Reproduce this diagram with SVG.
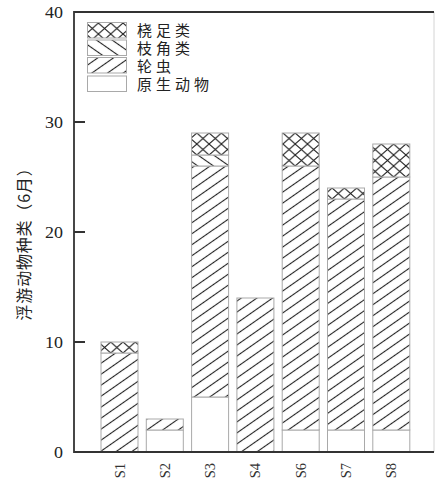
<svg xmlns="http://www.w3.org/2000/svg" width="435" height="481" viewBox="0 0 435 481">
<style>
.seg{stroke:#a9a9a9;stroke-width:1}
.ax{stroke:#333;stroke-width:1.8;fill:none}
.num{font-family:"Liberation Serif",serif;font-size:16px;fill:#222}
.xl{font-family:"Liberation Serif",serif;font-size:14.5px;fill:#333}
.cjk{font-family:"Noto Sans CJK SC","Noto Sans CJK JP",sans-serif;font-size:15px;fill:#222}
</style>
<defs>
<pattern id="slash" patternUnits="userSpaceOnUse" width="9" height="9" patternTransform="rotate(-35)">
<rect width="9" height="9" fill="#fff"/>
<line x1="-1" y1="4.5" x2="10" y2="4.5" stroke="#222" stroke-width="1.1"/>
</pattern>
<pattern id="bslash" patternUnits="userSpaceOnUse" width="9" height="9" patternTransform="rotate(35)">
<rect width="9" height="9" fill="#fff"/>
<line x1="-1" y1="4.5" x2="10" y2="4.5" stroke="#222" stroke-width="1.1"/>
</pattern>
<pattern id="cross" patternUnits="userSpaceOnUse" x="0" y="1" width="12.3" height="11">
<rect width="12.3" height="11" fill="#fff"/>
<path d="M0,0 L12.3,11 M12.3,0 L0,11" stroke="#222" stroke-width="1.1"/>
</pattern>
</defs>
<rect width="435" height="481" fill="#fff"/>

<g id="axes">
<line x1="434" y1="12" x2="434" y2="452" stroke="#d4d4d4" stroke-width="1"/>
<path class="ax" d="M74,12 H434 M74,11 V452 H434"/>
<path class="ax" d="M74,122 H85 M74,232 H85 M74,342 H85"/>
<text class="num" text-anchor="end" transform="translate(63,18) scale(1.12,1)">40</text>
<text class="num" text-anchor="end" transform="translate(63,128) scale(1.12,1)">30</text>
<text class="num" text-anchor="end" transform="translate(63,238) scale(1.12,1)">20</text>
<text class="num" text-anchor="end" transform="translate(63,348) scale(1.12,1)">10</text>
<text class="num" text-anchor="end" transform="translate(63,458) scale(1.12,1)">0</text>
<text class="cjk" text-anchor="middle" letter-spacing="0.8" transform="translate(30,240) rotate(-90)" style="font-size:16px">浮游动物种类（6月）</text>
</g>

<g id="legend">
<rect class="seg" x="87.5" y="22.5" width="39" height="15.5" fill="url(#cross)"/>
<rect class="seg" x="87.5" y="40" width="39" height="15.5" fill="url(#bslash)"/>
<rect class="seg" x="87.5" y="57.5" width="39" height="15.5" fill="url(#slash)"/>
<rect class="seg" x="87.5" y="76" width="39" height="15.5" fill="#fff"/>
<text class="cjk" x="137" y="36" letter-spacing="4">桡足类</text>
<text class="cjk" x="137" y="54" letter-spacing="4">枝角类</text>
<text class="cjk" x="137" y="72" letter-spacing="4">轮虫</text>
<text class="cjk" x="137" y="90" letter-spacing="4">原生动物</text>
</g>

<g id="bar-S1">
<rect class="seg" x="101" y="353" width="37" height="99" fill="url(#slash)"/>
<rect class="seg" x="101" y="342" width="37" height="11" fill="url(#cross)"/>
</g>
<g id="bar-S2">
<rect class="seg" x="146.3" y="430" width="37" height="22" fill="#fff"/>
<rect class="seg" x="146.3" y="419" width="37" height="11" fill="url(#slash)"/>
</g>
<g id="bar-S3">
<rect class="seg" x="191.6" y="397" width="37" height="55" fill="#fff"/>
<rect class="seg" x="191.6" y="166" width="37" height="231" fill="url(#slash)"/>
<rect class="seg" x="191.6" y="155" width="37" height="11" fill="url(#bslash)"/>
<rect class="seg" x="191.6" y="133" width="37" height="22" fill="url(#cross)"/>
</g>
<g id="bar-S4">
<rect class="seg" x="236.9" y="298" width="37" height="154" fill="url(#slash)"/>
</g>
<g id="bar-S6">
<rect class="seg" x="282.2" y="430" width="37" height="22" fill="#fff"/>
<rect class="seg" x="282.2" y="166" width="37" height="264" fill="url(#slash)"/>
<rect class="seg" x="282.2" y="133" width="37" height="33" fill="url(#cross)"/>
</g>
<g id="bar-S7">
<rect class="seg" x="327.5" y="430" width="37" height="22" fill="#fff"/>
<rect class="seg" x="327.5" y="199" width="37" height="231" fill="url(#slash)"/>
<rect class="seg" x="327.5" y="188" width="37" height="11" fill="url(#cross)"/>
</g>
<g id="bar-S8">
<rect class="seg" x="372.8" y="430" width="37" height="22" fill="#fff"/>
<rect class="seg" x="372.8" y="177" width="37" height="253" fill="url(#slash)"/>
<rect class="seg" x="372.8" y="144" width="37" height="33" fill="url(#cross)"/>
</g>

<g id="baseline">
<path class="ax" d="M74,452 H434"/>
</g>

<g id="xlabels">
<text class="xl" text-anchor="end" transform="translate(124.5,463) rotate(-90)">S1</text>
<text class="xl" text-anchor="end" transform="translate(169.8,463) rotate(-90)">S2</text>
<text class="xl" text-anchor="end" transform="translate(215.1,463) rotate(-90)">S3</text>
<text class="xl" text-anchor="end" transform="translate(260.4,463) rotate(-90)">S4</text>
<text class="xl" text-anchor="end" transform="translate(305.7,463) rotate(-90)">S6</text>
<text class="xl" text-anchor="end" transform="translate(351,463) rotate(-90)">S7</text>
<text class="xl" text-anchor="end" transform="translate(396.3,463) rotate(-90)">S8</text>
</g>
</svg>
